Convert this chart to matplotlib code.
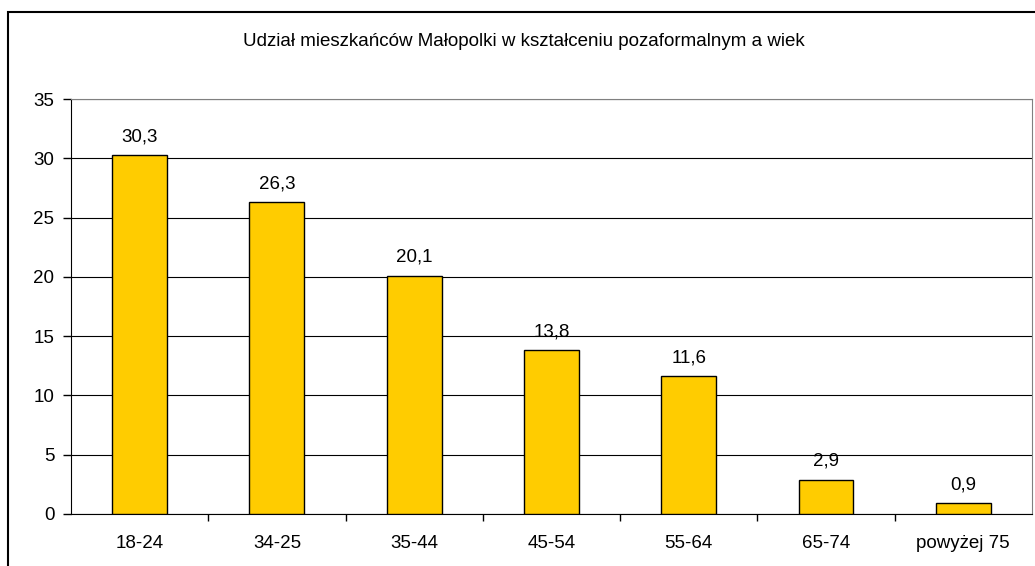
import matplotlib.pyplot as plt
from matplotlib.patches import Rectangle

plt.rcParams['font.family'] = ['Liberation Sans', 'DejaVu Sans']

# grupy wiekowe i udzial (%)
wiek = ["18-24", "34-25", "35-44", "45-54", "55-64", "65-74", "powyżej 75"]
udzial = [30.3, 26.3, 20.1, 13.8, 11.6, 2.9, 0.9]
etykiety = ["30,3", "26,3", "20,1", "13,8", "11,6", "2,9", "0,9"]

fs = 13.5

fig = plt.figure(figsize=(10.35, 5.66), dpi=100)
ax = fig.add_axes([0.0686, 0.0919, 0.9284, 0.7331])

# ramka wykresu
fig.patches.append(Rectangle((8 / 1035, -0.1), 1.2, 0.1 + (1 - 12 / 566),
                             transform=fig.transFigure, fill=False,
                             edgecolor='black', linewidth=1.5))

x = range(len(wiek))
ax.bar(x, udzial, width=0.4, color='#FFCC00', edgecolor='black', linewidth=1, zorder=3)
for i, (v, lab) in enumerate(zip(udzial, etykiety)):
    ax.annotate(lab, (i, v), xytext=(0, 7), textcoords='offset points',
                ha='center', va='bottom', fontsize=fs)

ax.set_xlim(-0.5, len(wiek) - 0.5)
ax.set_ylim(0, 35)
ax.set_yticks(range(0, 36, 5))
ax.set_xticks(x)
ax.set_xticklabels(wiek, fontsize=fs)
ax.tick_params(axis='y', labelsize=fs, length=6, width=1, pad=6)
ax.tick_params(axis='x', length=0, pad=15)
ax.set_xticks([i + 0.5 for i in range(len(wiek) - 1)], minor=True)
ax.tick_params(axis='x', which='minor', length=5, width=1)

ax.grid(axis='y', color='black', linewidth=0.8, zorder=0)
for s in ['top', 'right']:
    ax.spines[s].set_color('#808080')
ax.spines['left'].set_color('black')
ax.spines['bottom'].set_color('black')

fig.text(0.506, 0.926, "Udział mieszkańców Małopolki w kształceniu pozaformalnym a wiek",
         ha='center', va='center', fontsize=fs)

fig.savefig("out.png", dpi=100)
